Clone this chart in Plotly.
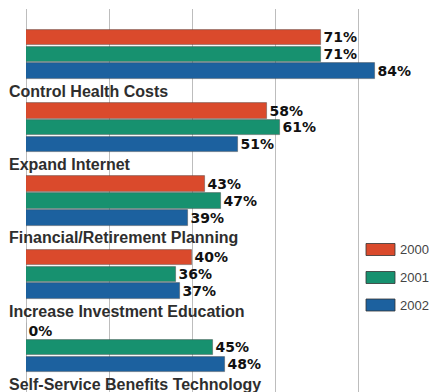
import plotly.graph_objects as go

categories = ["Control Health Costs", "Expand Internet", "Financial/Retirement Planning",
              "Increase Investment Education", "Self-Service Benefits Technology"]
years = ["2000", "2001", "2002"]
v2000 = [71, 58, 43, 40, 0]
v2001 = [71, 61, 47, 36, 45]
v2002 = [84, 51, 39, 37, 48]
series = [v2000, v2001, v2002]
colors = ["#da4a2c", "#17916f", "#1c619f"]

W, H = 429, 392
ML, MT = 26, 9
GROUP_PITCH = 4.366
LABEL_OFFSET = 1.19
BAR_PITCH_PX = 16.8
FIRST_CENTER_PX = 37.5

fig = go.Figure()
for s, (yr, vals, col) in enumerate(zip(years, series, colors)):
    ypos = [g * GROUP_PITCH + s for g in range(len(categories))]
    fig.add_trace(go.Bar(
        x=vals, y=ypos, orientation="h", name=yr,
        width=0.92,
        marker=dict(color=col, line=dict(color="rgba(70,70,70,0.55)", width=0.8)),
        text=[f"{v}%" for v in vals], textposition="outside",
        textfont=dict(family="DejaVu Sans", size=14, color="#111111", weight="bold"),
        constraintext="none", cliponaxis=False, showlegend=False,
        hoverinfo="skip",
    ))

annotations = []
for g, cat in enumerate(categories):
    annotations.append(dict(
        x=0, xref="paper", xanchor="left", xshift=-19,
        y=g * GROUP_PITCH + 2 + LABEL_OFFSET, yref="y", yanchor="middle",
        text=f"<b>{cat}</b>", showarrow=False,
        font=dict(family="Liberation Sans", size=16, color="#2e2e2e"),
    ))

# manual legend
plot_w = W - ML
plot_h = H - MT
def px_x(p):
    return (p - ML) / plot_w
def px_y(p):
    return (H - p) / plot_h

shapes = []
legend_centers = [249.5, 277.5, 305]
for yr, col, cy in zip(years, colors, legend_centers):
    shapes.append(dict(type="rect", xref="paper", yref="paper",
                       x0=px_x(366), x1=px_x(395), y0=px_y(cy + 6), y1=px_y(cy - 6),
                       fillcolor=col, line=dict(color="#333333", width=0.8)))
    annotations.append(dict(
        x=px_x(398), xref="paper", xanchor="left",
        y=px_y(cy), yref="paper", yanchor="middle",
        text=yr, showarrow=False,
        font=dict(family="Liberation Sans", size=13, color="#444444"),
    ))

top_u = (MT - FIRST_CENTER_PX) / BAR_PITCH_PX
bot_u = (H - FIRST_CENTER_PX) / BAR_PITCH_PX

fig.update_layout(
    width=W, height=H,
    margin=dict(l=ML, r=0, t=MT, b=0),
    paper_bgcolor="white", plot_bgcolor="white",
    xaxis=dict(range=[0, plot_w / 4.156], dtick=20, tick0=0, showgrid=True,
               gridcolor="#bdbdbd", gridwidth=1, zeroline=True, zerolinecolor="#bdbdbd",
               zerolinewidth=1, showticklabels=False, ticks="", showline=False, fixedrange=True),
    yaxis=dict(range=[bot_u, top_u], showgrid=False, zeroline=False,
               showticklabels=False, ticks="", showline=False, fixedrange=True),
    annotations=annotations, shapes=shapes,
    bargap=0, showlegend=False,
)
fig.write_html("out.html", config={"displayModeBar": False})
